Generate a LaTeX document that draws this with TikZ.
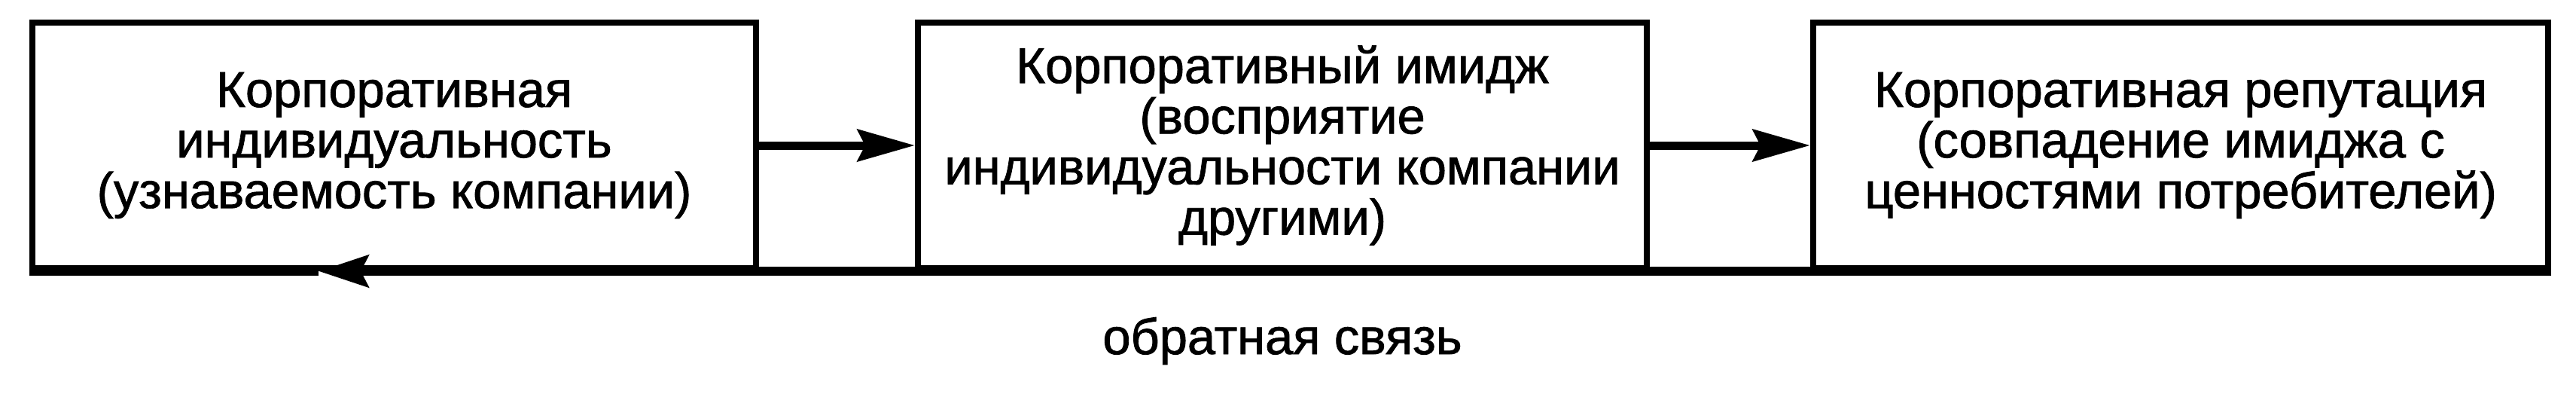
\documentclass[tikz,border=0pt]{standalone}
\usepackage{fontspec}
\setmainfont[FakeBold=1.2]{Liberation Sans}
\usepackage{tikz}
\usetikzlibrary{positioning, arrows.meta}
\tikzset{myBox/.style={draw=black, line width=0.08cm, minimum height=3.26cm, align=center, inner sep=0pt, font=\fontsize{19}{19.1}\selectfont}}
\tikzset{myArrow/.style={line width=0.11cm, color=black, -{Stealth[length=0.76cm, width=0.42cm, inset=0.1cm]}}}
\tikzset{myFeedback/.style={line width=0.12cm, color=black}}
\tikzset{myLabel/.style={font=\fontsize{19}{19.1}\selectfont, inner sep=0pt}}

\begin{document}
\begin{tikzpicture}
	\useasboundingbox (0,0) rectangle (34.21,-5.22);
	%\draw[help lines] (0,0) grid (34,-5);
	\node[myBox, minimum width=9.61cm] (ident) at (5.235,-1.93) {Корпоративная\\индивидуальность\\(узнаваемость компании)};
	\node[myBox, minimum width=9.68cm, right=2.07cm of ident] (image) {Корпоративный имидж\\(восприятие\\индивидуальности компании\\другими)};
	\node[myBox, minimum width=9.76cm, right=2.13cm of image] (reput) {Корпоративная репутация\\(совпадение имиджа с\\ценностями потребителей)};
	
	\draw[myArrow] (ident) -- (image);
	\draw[myArrow] (image) -- (reput);
	
	% feedback along the bottom
	\path (ident.south west) ++(3.84,0) coordinate (fbTip);
	\draw[myFeedback, -{Stealth[length=0.66cm, width=0.42cm, inset=0.1cm]}] (reput.south east) -- (fbTip);
	\draw[myFeedback] (fbTip) -- (ident.south west);
	\node[myLabel, below=1.10cm of image, anchor=base] (fbText) {обратная связь};
\end{tikzpicture}
\end{document}
